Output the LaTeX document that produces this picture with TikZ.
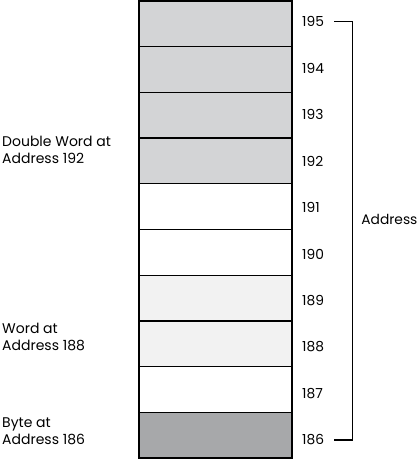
\documentclass[tikz,border=0pt]{standalone}
\usepackage{fontspec}
\setmainfont{Poppins}
\usetikzlibrary{positioning}

\definecolor{dwgray}{RGB}{211,212,214}
\definecolor{wdgray}{RGB}{242,242,242}
\definecolor{btgray}{RGB}{167,168,170}

\begin{document}
\begin{tikzpicture}[
  x=1pt, y=1pt,
  cell/.style={draw, line width=1.3pt, outer sep=0pt, minimum width=153pt, minimum height=45.7pt},
  addr/.style={font=\fontsize{13.8}{16}\selectfont, inner xsep=10pt, inner ysep=0pt, anchor=west},
  lbl/.style={font=\fontsize{14}{17}\selectfont, align=left, anchor=west, inner sep=0pt},
  node distance=0pt
]
  \useasboundingbox (0,0) rectangle (417,-460);

  % memory cells, top to bottom
  \node[cell, fill=dwgray] (c195) at (215.5,-23.85) {};
  \node[cell, fill=dwgray, below=of c195] (c194) {};
  \node[cell, fill=dwgray, below=of c194] (c193) {};
  \node[cell, fill=dwgray, below=of c193] (c192) {};
  \node[cell, fill=white, below=of c192] (c191) {};
  \node[cell, fill=white, below=of c191] (c190) {};
  \node[cell, fill=wdgray, below=of c190] (c189) {};
  \node[cell, fill=wdgray, below=of c189] (c188) {};
  \node[cell, fill=white, below=of c188] (c187) {};
  \node[cell, fill=btgray, below=of c187] (c186) {};

  % address numbers
  \foreach \a/\dy in {195/2.4,194/1.6,193/0.8,192/0,191/-0.8,190/-1.6,189/-2.4,188/-3.2,187/-4,186/-4.8}
    \node[addr] (a\a) at ([yshift=\dy pt]c\a.east) {\a};

  % bracket
  \draw[line width=1.2pt] (a195.east) -- ++(18,0) coordinate (brk) |- (a186.east);
  \node[addr, inner xsep=0pt] (addrlbl) at ([xshift=9pt, yshift=10pt]brk |- c191.south) {Address};

  % side labels
  \node[lbl] (dword) at ([xshift=-137pt, yshift=11.3pt]c192.west) {Double Word at\\Address 192};
  \node[lbl] (word) at ([xshift=-137pt, yshift=6.8pt]c188.west) {Word at\\Address 188};
  \node[lbl] (byte) at ([xshift=-137pt, yshift=3.7pt]c186.west) {Byte at\\Address 186};
\end{tikzpicture}
\end{document}
